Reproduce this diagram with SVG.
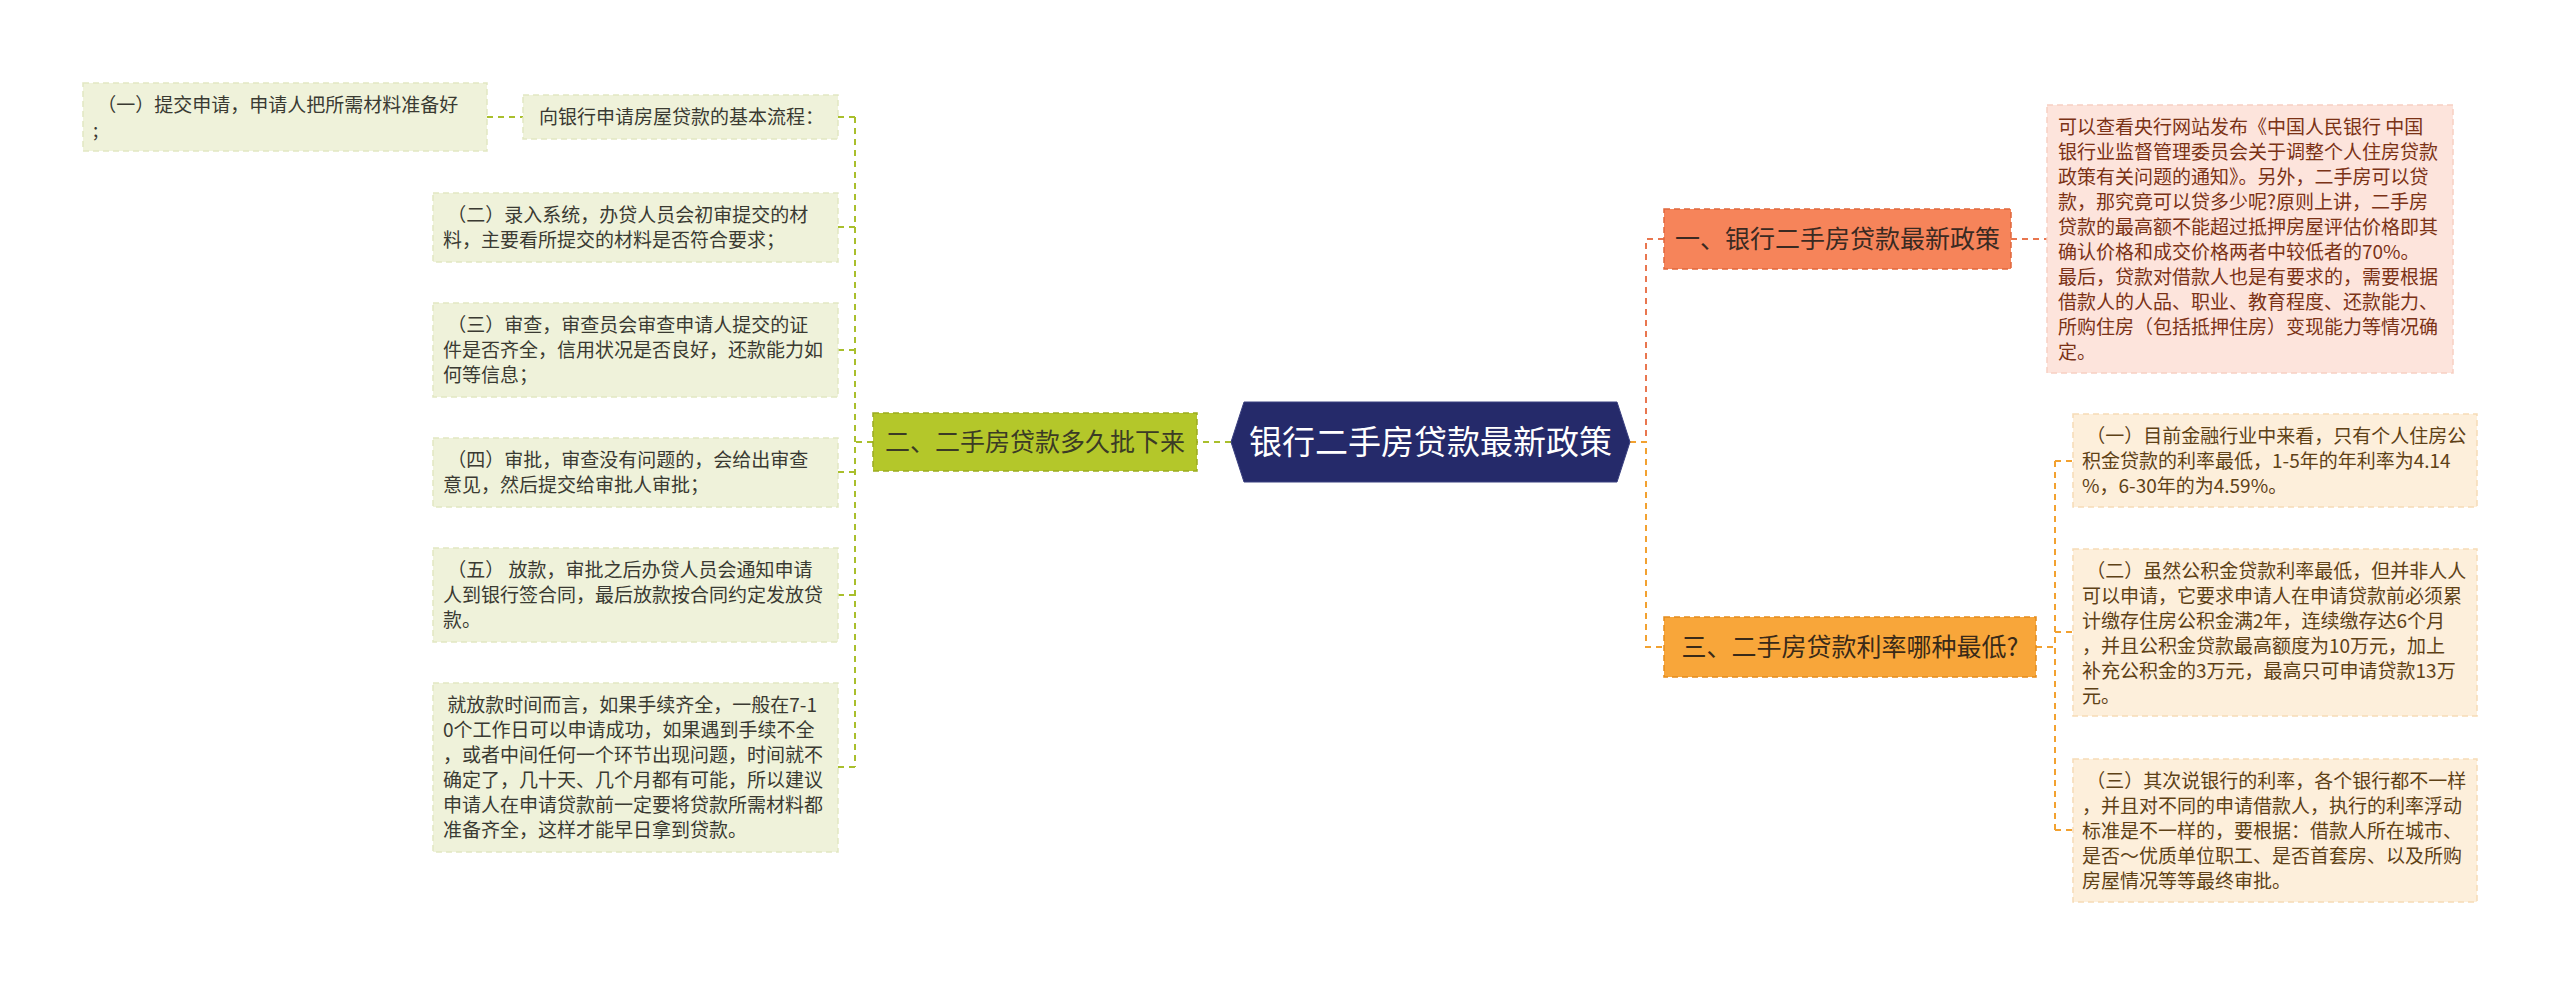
<svg xmlns="http://www.w3.org/2000/svg" width="2560" height="985" viewBox="0 0 2560 985" xml:space="preserve">
<style>
text { font-family: "Noto Sans CJK SC", "Microsoft YaHei", "Liberation Sans", sans-serif; white-space: pre; }
.t19 { font-size: 19px; }
.gtxt { fill: #3a3a32; }
.ptxt { fill: #7b3216; }
.otxt { fill: #5e4116; }
.gbox { fill: #eff2da; stroke: #e2e7c2; stroke-width: 1.5; stroke-dasharray: 6 4; }
.pbox { fill: #fde4dc; stroke: #f7cfc2; stroke-width: 1.5; stroke-dasharray: 6 4; }
.obox { fill: #fdefdb; stroke: #f6dcb7; stroke-width: 1.5; stroke-dasharray: 6 4; }
.conn { fill: none; stroke-width: 2; stroke-dasharray: 6 5; }
.cg { stroke: #a9bf2c; }
.cc { stroke: #e9764f; }
.co { stroke: #f2a130; }
.btitle { font-size: 25px; }
</style>
<rect width="2560" height="985" fill="#ffffff"/>

<g id="connectors">
  <!-- green branch -->
  <path class="conn cg" d="M1231 442 H1197"/>
  <path class="conn cg" d="M873 442 H855"/>
  <path class="conn cg" d="M855 117 V767"/>
  <path class="conn cg" d="M838 117 H855"/>
  <path class="conn cg" d="M838 227 H855"/>
  <path class="conn cg" d="M838 350 H855"/>
  <path class="conn cg" d="M838 472 H855"/>
  <path class="conn cg" d="M838 595 H855"/>
  <path class="conn cg" d="M838 767 H855"/>
  <path class="conn cg" d="M487 117 H523"/>
  <!-- coral branch -->
  <path class="conn cc" d="M1630 442 H1646 V239 H1664"/>
  <path class="conn cc" d="M2011 239 H2047"/>
  <!-- orange branch -->
  <path class="conn co" d="M1630 442 H1646 V647 H1664"/>
  <path class="conn co" d="M2036 647 H2055"/>
  <path class="conn co" d="M2055 461 V830"/>
  <path class="conn co" d="M2055 461 H2073"/>
  <path class="conn co" d="M2055 632 H2073"/>
  <path class="conn co" d="M2055 830 H2073"/>
</g>

<g id="root">
  <polygon points="1231,442 1244,402 1617,402 1630,442 1617,482 1244,482" fill="#252a6a" stroke="#3a4080" stroke-width="1"/>
  <text x="1430.5" y="454" font-size="33" fill="#ffffff" text-anchor="middle">银行二手房贷款最新政策</text>
</g>

<g id="branch2">
  <rect x="873" y="413" width="324" height="58" fill="#b4c72a" stroke="#9aac1f" stroke-width="1.5" stroke-dasharray="6 4"/>
  <text class="btitle" x="1035" y="451" fill="#3b3b25" text-anchor="middle">二、二手房贷款多久批下来</text>
</g>

<g id="flow">
  <rect class="gbox" x="523" y="95" width="315" height="44"/>
  <text class="t19 gtxt" x="539" y="124">向银行申请房屋贷款的基本流程：</text>
</g>

<g id="step1">
  <rect class="gbox" x="83" y="83" width="404" height="68"/>
  <text class="t19 gtxt" x="93" y="112"> （一）提交申请，申请人把所需材料准备好</text>
  <text class="t19 gtxt" x="93" y="137">;</text>
</g>

<g id="step2">
  <rect class="gbox" x="433" y="193" width="405" height="69"/>
  <text class="t19 gtxt" x="443" y="222"> （二）录入系统，办贷人员会初审提交的材</text>
  <text class="t19 gtxt" x="443" y="247">料，主要看所提交的材料是否符合要求；</text>
</g>

<g id="step3">
  <rect class="gbox" x="433" y="303" width="405" height="94"/>
  <text class="t19 gtxt" x="443" y="332"> （三）审查，审查员会审查申请人提交的证</text>
  <text class="t19 gtxt" x="443" y="357">件是否齐全，信用状况是否良好，还款能力如</text>
  <text class="t19 gtxt" x="443" y="382">何等信息；</text>
</g>

<g id="step4">
  <rect class="gbox" x="433" y="438" width="405" height="69"/>
  <text class="t19 gtxt" x="443" y="467"> （四）审批，审查没有问题的，会给出审查</text>
  <text class="t19 gtxt" x="443" y="492">意见，然后提交给审批人审批；</text>
</g>

<g id="step5">
  <rect class="gbox" x="433" y="548" width="405" height="94"/>
  <text class="t19 gtxt" x="443" y="577"> （五） 放款，审批之后办贷人员会通知申请</text>
  <text class="t19 gtxt" x="443" y="602">人到银行签合同，最后放款按合同约定发放贷</text>
  <text class="t19 gtxt" x="443" y="627">款。</text>
</g>

<g id="timing">
  <rect class="gbox" x="433" y="683" width="405" height="169"/>
  <text class="t19 gtxt" x="443" y="712"> 就放款时间而言，如果手续齐全，一般在7-1</text>
  <text class="t19 gtxt" x="443" y="737">0个工作日可以申请成功，如果遇到手续不全</text>
  <text class="t19 gtxt" x="443" y="762">，或者中间任何一个环节出现问题，时间就不</text>
  <text class="t19 gtxt" x="443" y="787">确定了，几十天、几个月都有可能，所以建议</text>
  <text class="t19 gtxt" x="443" y="812">申请人在申请贷款前一定要将贷款所需材料都</text>
  <text class="t19 gtxt" x="443" y="837">准备齐全，这样才能早日拿到贷款。</text>
</g>

<g id="branch1">
  <rect x="1664" y="209" width="347" height="60" fill="#f6845a" stroke="#e0673d" stroke-width="1.5" stroke-dasharray="6 4"/>
  <text class="btitle" x="1837.5" y="248" fill="#3a2a22" text-anchor="middle">一、银行二手房贷款最新政策</text>
</g>

<g id="policy">
  <rect class="pbox" x="2047" y="105" width="406" height="268"/>
  <text class="t19 ptxt" x="2058" y="134">可以查看央行网站发布《中国人民银行 中国</text>
  <text class="t19 ptxt" x="2058" y="159">银行业监督管理委员会关于调整个人住房贷款</text>
  <text class="t19 ptxt" x="2058" y="184">政策有关问题的通知》。另外，二手房可以贷</text>
  <text class="t19 ptxt" x="2058" y="209">款，那究竟可以贷多少呢?原则上讲，二手房</text>
  <text class="t19 ptxt" x="2058" y="234">贷款的最高额不能超过抵押房屋评估价格即其</text>
  <text class="t19 ptxt" x="2058" y="259">确认价格和成交价格两者中较低者的70%。</text>
  <text class="t19 ptxt" x="2058" y="284">最后，贷款对借款人也是有要求的，需要根据</text>
  <text class="t19 ptxt" x="2058" y="309">借款人的人品、职业、教育程度、还款能力、</text>
  <text class="t19 ptxt" x="2058" y="334">所购住房（包括抵押住房）变现能力等情况确</text>
  <text class="t19 ptxt" x="2058" y="359">定。</text>
</g>

<g id="branch3">
  <rect x="1664" y="617" width="372" height="60" fill="#f8a63a" stroke="#e38c1c" stroke-width="1.5" stroke-dasharray="6 4"/>
  <text class="btitle" x="1850" y="656" fill="#3a2a18" text-anchor="middle">三、二手房贷款利率哪种最低?</text>
</g>

<g id="rate1">
  <rect class="obox" x="2073" y="414" width="404" height="93"/>
  <text class="t19 otxt" x="2082" y="443"> （一）目前金融行业中来看，只有个人住房公</text>
  <text class="t19 otxt" x="2082" y="468">积金贷款的利率最低，1-5年的年利率为4.14</text>
  <text class="t19 otxt" x="2082" y="493">%，6-30年的为4.59%。</text>
</g>

<g id="rate2">
  <rect class="obox" x="2073" y="549" width="404" height="167"/>
  <text class="t19 otxt" x="2082" y="578"> （二）虽然公积金贷款利率最低，但并非人人</text>
  <text class="t19 otxt" x="2082" y="603">可以申请，它要求申请人在申请贷款前必须累</text>
  <text class="t19 otxt" x="2082" y="628">计缴存住房公积金满2年，连续缴存达6个月</text>
  <text class="t19 otxt" x="2082" y="653">，并且公积金贷款最高额度为10万元，加上</text>
  <text class="t19 otxt" x="2082" y="678">补充公积金的3万元，最高只可申请贷款13万</text>
  <text class="t19 otxt" x="2082" y="703">元。</text>
</g>

<g id="rate3">
  <rect class="obox" x="2073" y="759" width="404" height="143"/>
  <text class="t19 otxt" x="2082" y="788"> （三）其次说银行的利率，各个银行都不一样</text>
  <text class="t19 otxt" x="2082" y="813">，并且对不同的申请借款人，执行的利率浮动</text>
  <text class="t19 otxt" x="2082" y="838">标准是不一样的，要根据：借款人所在城市、</text>
  <text class="t19 otxt" x="2082" y="863">是否～优质单位职工、是否首套房、以及所购</text>
  <text class="t19 otxt" x="2082" y="888">房屋情况等等最终审批。</text>
</g>
</svg>
